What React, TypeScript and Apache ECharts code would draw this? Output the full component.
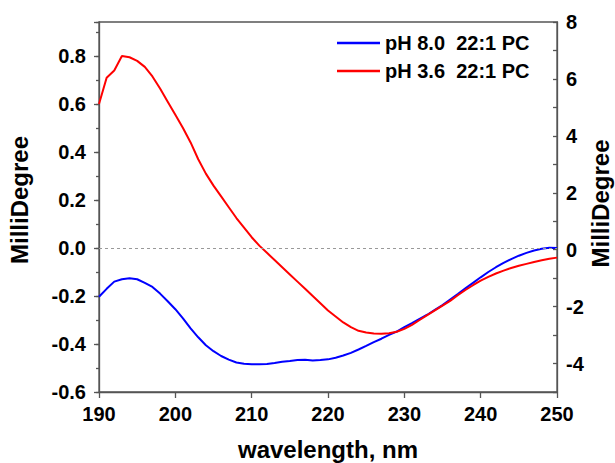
import React, { useEffect, useRef } from 'react';
import * as echarts from 'echarts';

const wavelength = [
  190, 191, 192, 193, 194, 195, 196, 197, 198, 199,
  200, 201, 202, 203, 204, 205, 206, 207, 208, 209,
  210, 211, 212, 213, 214, 215, 216, 217, 218, 219,
  220, 221, 222, 223, 224, 225, 226, 227, 228, 229,
  230, 231, 232, 233, 234, 235, 236, 237, 238, 239,
  240, 241, 242, 243, 244, 245, 246, 247, 248, 249, 250,
];

const ph80 = [
  -0.203, -0.17, -0.14, -0.13, -0.126, -0.13, -0.145, -0.162, -0.19, -0.222,
  -0.255, -0.293, -0.335, -0.372, -0.405, -0.43, -0.45, -0.465, -0.477, -0.482,
  -0.484, -0.484, -0.483, -0.479, -0.474, -0.471, -0.467, -0.466, -0.469, -0.467,
  -0.464, -0.457, -0.448, -0.437, -0.423, -0.408, -0.392, -0.378, -0.362, -0.348,
  -0.33, -0.313, -0.295, -0.278, -0.258, -0.238, -0.215, -0.192, -0.168, -0.145,
  -0.122, -0.1, -0.08, -0.062, -0.046, -0.032, -0.02, -0.01, -0.003, 0.001, 0.0,
];

const ph36 = [
  0.6, 0.71, 0.74, 0.8, 0.795, 0.78, 0.755, 0.715, 0.665, 0.61,
  0.555, 0.5, 0.44, 0.37, 0.31, 0.26, 0.215, 0.17, 0.125, 0.085,
  0.045, 0.01, -0.02, -0.05, -0.08, -0.11, -0.14, -0.17, -0.2, -0.23,
  -0.26, -0.285, -0.31, -0.33, -0.345, -0.352, -0.356, -0.357, -0.355, -0.349,
  -0.337, -0.32, -0.3, -0.28, -0.26, -0.24, -0.22, -0.197, -0.175, -0.155,
  -0.136, -0.12, -0.106, -0.094, -0.083, -0.074, -0.066, -0.058, -0.051, -0.045, -0.04,
];

const seriesNames = ['pH 8.0  22:1 PC', 'pH 3.6  22:1 PC'];
const seriesColors = ['#0000ff', '#ff0000'];

const FONT = 'Liberation Sans, Arial, Helvetica, sans-serif';

export default function App() {
  const ref = useRef<HTMLDivElement>(null);

  useEffect(() => {
    if (!ref.current) return;
    const chart = echarts.init(ref.current, undefined, { renderer: 'svg' });
    const labelStyle = {
      fontFamily: FONT,
      fontSize: 20,
      fontWeight: 'bold' as const,
      color: '#000',
    };
    const nameStyle = {
      fontFamily: FONT,
      fontSize: 24,
      fontWeight: 'bold' as const,
      color: '#000',
    };
    const axisLineStyle = { color: '#555', width: 1.3 };

    chart.setOption({
      animation: false,
      backgroundColor: '#fff',
      grid: {
        left: 99,
        right: 58,
        top: 22,
        bottom: 71,
        containLabel: false,
        outerBoundsMode: 'none',
        show: true,
        borderColor: '#555',
        borderWidth: 1.3,
        backgroundColor: 'transparent',
      },
      legend: {
        orient: 'vertical',
        left: 337,
        top: 33,
        padding: 0,
        icon: 'rect',
        itemWidth: 43,
        itemHeight: 2.5,
        itemGap: 8,
        textStyle: { ...labelStyle, lineHeight: 20 },
        data: seriesNames,
      },
      xAxis: {
        type: 'value',
        min: 190,
        max: 250,
        interval: 10,
        name: 'wavelength, nm',
        nameLocation: 'middle',
        nameGap: 45,
        nameMoveOverlap: false,
        nameTextStyle: nameStyle,
        axisLine: { show: true, onZero: false, lineStyle: axisLineStyle },
        axisTick: { show: true, inside: false, length: 6, lineStyle: axisLineStyle },
        axisLabel: { ...labelStyle, margin: 12 },
        splitLine: { show: false },
      },
      yAxis: [
        {
          type: 'value',
          position: 'left',
          min: -0.6,
          max: 0.942,
          interval: 0.2,
          name: 'MilliDegree',
          nameLocation: 'middle',
          nameGap: 68,
          nameMoveOverlap: false,
          nameTextStyle: { ...nameStyle, padding: [0, 0, 0, 14] },
          axisLine: { show: true, onZero: false, lineStyle: axisLineStyle },
          axisTick: { show: true, inside: false, length: 5, lineStyle: axisLineStyle },
          axisLabel: {
            ...labelStyle,
            margin: 13,
            formatter: (v: number) =>
              Math.abs(v * 5 - Math.round(v * 5)) < 1e-6 ? v.toFixed(1) : '',
          },
          splitLine: { show: false },
        },
        {
          type: 'value',
          position: 'right',
          min: -5,
          max: 8,
          interval: 1,
          name: 'MilliDegree',
          nameLocation: 'middle',
          nameGap: 31,
          nameMoveOverlap: false,
          nameTextStyle: { ...nameStyle, padding: [0, 0, 0, 7] },
          axisLine: { show: true, onZero: false, lineStyle: axisLineStyle },
          axisTick: { show: true, inside: true, length: 4, lineStyle: axisLineStyle },
          axisLabel: {
            ...labelStyle,
            margin: 9,
            formatter: (v: number) => (Math.round(v) % 2 === 0 ? String(Math.round(v)) : ''),
          },
          splitLine: { show: false },
        },
        {
          type: 'value',
          position: 'left',
          min: -0.6,
          max: 0.942,
          interval: 0.1,
          axisLine: { show: false, onZero: false },
          axisTick: { show: true, inside: false, length: 3, lineStyle: axisLineStyle },
          axisLabel: { show: false },
          splitLine: { show: false },
        },
      ],
      series: [
        {
          name: seriesNames[0],
          type: 'line',
          yAxisIndex: 0,
          symbol: 'none',
          smooth: false,
          lineStyle: { color: seriesColors[0], width: 2 },
          itemStyle: { color: seriesColors[0] },
          data: wavelength.map((w, i) => [w, ph80[i]]),
        },
        {
          name: seriesNames[1],
          type: 'line',
          yAxisIndex: 0,
          symbol: 'none',
          smooth: false,
          lineStyle: { color: seriesColors[1], width: 2 },
          itemStyle: { color: seriesColors[1] },
          data: wavelength.map((w, i) => [w, ph36[i]]),
          markLine: {
            silent: true,
            symbol: 'none',
            label: { show: false },
            lineStyle: { type: [3, 3], color: '#999', width: 1 },
            data: [{ yAxis: 0 }],
          },
        },
      ],
    });

    return () => chart.dispose();
  }, []);

  return <div ref={ref} style={{ width: 615, height: 463, position: 'absolute', left: 0, top: 0 }} />;
}
